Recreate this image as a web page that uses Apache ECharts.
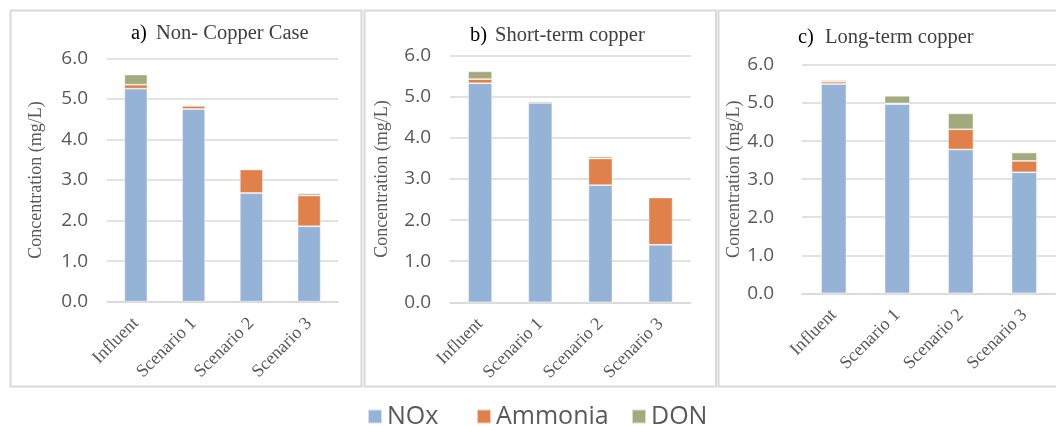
<!DOCTYPE html>
<html>
<head>
<meta charset="utf-8">
<script src="https://cdn.jsdelivr.net/npm/echarts@6/dist/echarts.min.js"></script>
<style>
  html, body { margin: 0; padding: 0; background: #ffffff; }
  #chart { width: 1056px; height: 426px; }
</style>
</head>
<body>
<div id="chart"></div>
<script>
// Nitrogen species concentrations (mg/L) for each case
const categories = ['Influent', 'Scenario 1', 'Scenario 2', 'Scenario 3'];
const yTicks = [0, 1, 2, 3, 4, 5, 6];
const seriesNames = ['NOx', 'Ammonia', 'DON'];

// a) Non-copper case
const noxA = [5.25, 4.75, 2.68, 1.86];
const ammoniaA = [0.10, 0.08, 0.58, 0.76];
const donA = [0.25, 0.00, 0.02, 0.05];

// b) Short-term copper
const noxB = [5.33, 4.85, 2.85, 1.40];
const ammoniaB = [0.10, 0.04, 0.65, 1.15];
const donB = [0.19, 0.00, 0.05, 0.00];

// c) Long-term copper
const noxC = [5.50, 4.97, 3.78, 3.18];
const ammoniaC = [0.06, 0.02, 0.53, 0.30];
const donC = [0.04, 0.20, 0.42, 0.22];

const panelTitles = [
  { tag: 'a)', text: 'Non- Copper Case' },
  { tag: 'b)', text: 'Short-term copper' },
  { tag: 'c)', text: 'Long-term copper' }
];

const panelData = [
  [noxA, ammoniaA, donA],
  [noxB, ammoniaB, donB],
  [noxC, ammoniaC, donC]
];

const colors = ['#95B3D7', '#E0804A', '#A3AB7E'];
const SANS = '"Open Sans", "Noto Sans", sans-serif';
const SERIF = '"Liberation Serif", "DejaVu Serif", serif';
const GREY = '#595959';

// layout of the three panels
const grids = [
  { left: 107, top: 58.3, width: 231, height: 243.4 },
  { left: 450, top: 55.7, width: 240.7, height: 246.6 },
  { left: 802, top: 65, width: 256, height: 228.3 }
];
const labelMargins = [19, 19, 28];
const nameGaps = [62, 59, 53];
const frames = [
  { x: 10.5, y: 10.5, width: 351, height: 376 },
  { x: 364.5, y: 10.5, width: 351.5, height: 376 },
  { x: 718.5, y: 10.5, width: 345, height: 376 }
];
const titlePos = [
  { tagX: 131, textX: 156, y: 33.5 },
  { tagX: 470, textX: 495, y: 36 },
  { tagX: 798, textX: 825, y: 37.5 }
];
// shared legend row, one entry per series
const legendLefts = [362, 471, 626];

const xAxes = [], yAxes = [], series = [], graphics = [];

grids.forEach((g, i) => {
  xAxes.push({
    type: 'category',
    gridIndex: i,
    data: categories,
    axisLine: { lineStyle: { color: '#D9D9D9', width: 1.5 } },
    axisTick: { show: false },
    axisLabel: {
      interval: 0,
      rotate: 45,
      margin: 19,
      fontFamily: SERIF,
      fontSize: 18,
      color: GREY
    }
  });
  yAxes.push({
    type: 'value',
    gridIndex: i,
    min: yTicks[0],
    max: yTicks[yTicks.length - 1],
    interval: 1,
    name: 'Concentration (mg/L)',
    nameLocation: 'middle',
    nameGap: nameGaps[i],
    nameTextStyle: { fontFamily: SERIF, fontSize: 18, color: GREY },
    axisLine: { show: false },
    axisTick: { show: false },
    axisLabel: {
      margin: labelMargins[i],
      fontFamily: SANS,
      fontSize: 19,
      color: GREY,
      formatter: v => v.toFixed(1)
    },
    splitLine: { lineStyle: { color: '#D9D9D9', width: 1.5 } }
  });
  panelData[i].forEach((vals, k) => {
    series.push({
      name: seriesNames[k],
      type: 'bar',
      stack: 'total' + i,
      xAxisIndex: i,
      yAxisIndex: i,
      barWidth: '40%',
      data: vals,
      itemStyle: { color: colors[k], borderColor: 'rgba(255,255,255,0.6)', borderWidth: 0.8 },
      emphasis: { disabled: true }
    });
  });
  graphics.push({
    type: 'rect',
    shape: frames[i],
    style: { fill: 'none', stroke: '#D9D9D9', lineWidth: 2 },
    silent: true
  });
  graphics.push({
    type: 'text',
    x: titlePos[i].tagX,
    y: titlePos[i].y,
    style: {
      text: panelTitles[i].tag,
      font: '20.5px ' + SERIF,
      fill: '#000000',
      verticalAlign: 'middle'
    }
  });
  graphics.push({
    type: 'text',
    x: titlePos[i].textX,
    y: titlePos[i].y,
    style: {
      text: panelTitles[i].text,
      font: '20.5px ' + SERIF,
      fill: '#404040',
      verticalAlign: 'middle'
    }
  });
});

const legends = seriesNames.map((name, k) => ({
  data: [name],
  left: legendLefts[k],
  top: 399,
  icon: 'rect',
  itemWidth: 14,
  itemHeight: 14,
  itemGap: 5,
  textStyle: { fontFamily: SANS, fontSize: 25, color: GREY }
}));

const chart = echarts.init(document.getElementById('chart'), null, { renderer: 'canvas' });
chart.setOption({
  animation: false,
  backgroundColor: '#ffffff',
  color: colors,
  grid: grids.map(g => Object.assign({ containLabel: false }, g)),
  xAxis: xAxes,
  yAxis: yAxes,
  series: series,
  legend: legends,
  graphic: graphics
});
</script>
</body>
</html>
